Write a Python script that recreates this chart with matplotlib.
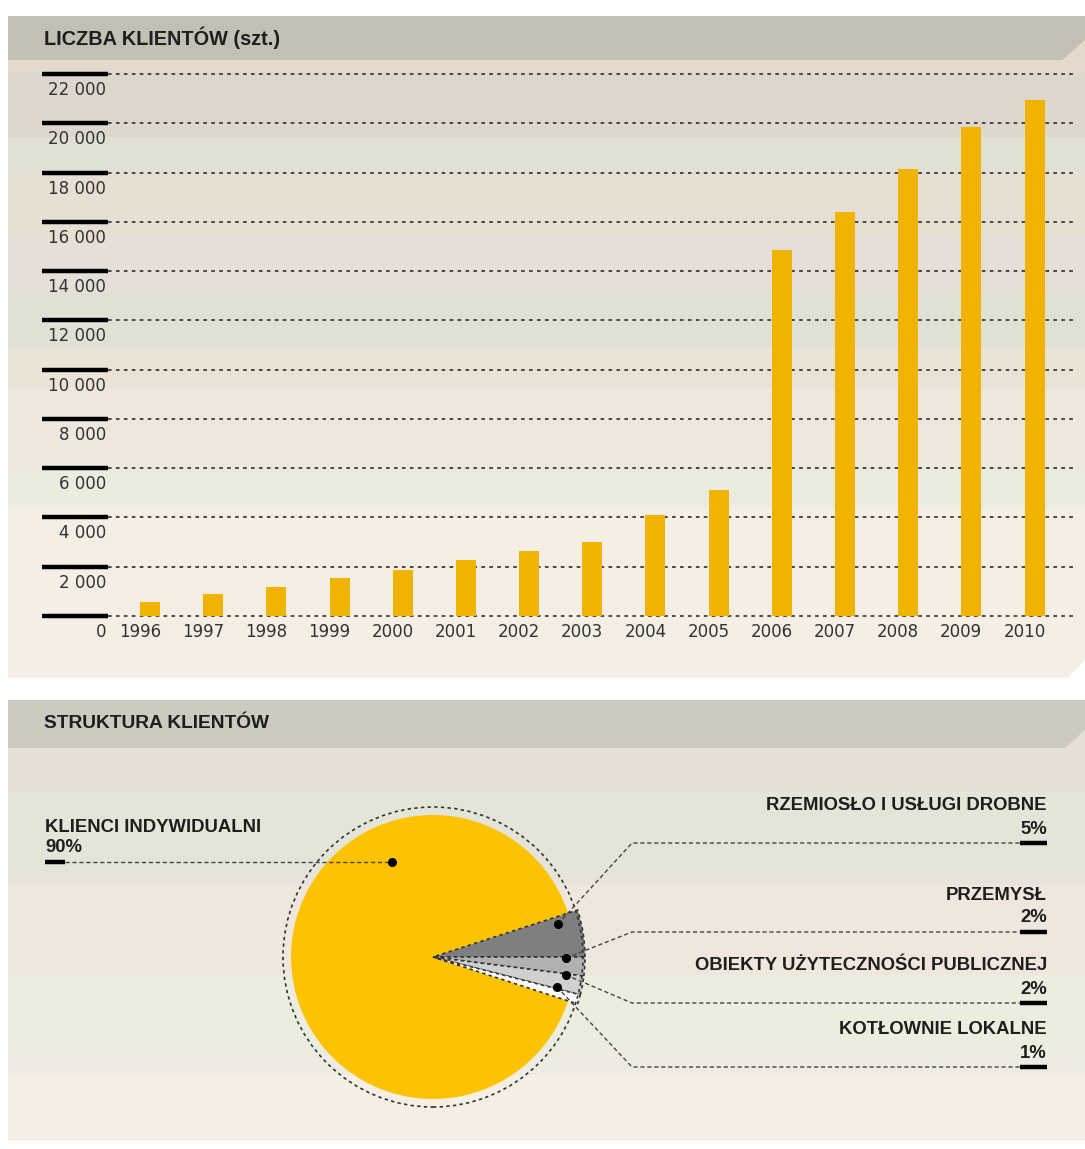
import numpy as np
import matplotlib
matplotlib.use("Agg")
import matplotlib.pyplot as plt
from matplotlib.patches import Polygon, Rectangle, Circle

# ---- data ----
years = [1996, 1997, 1998, 1999, 2000, 2001, 2002, 2003, 2004, 2005, 2006, 2007, 2008, 2009, 2010]
clients = [550, 880, 1170, 1530, 1870, 2280, 2640, 3000, 4100, 5120, 14850, 16400, 18130, 19840, 20930]
y_ticks = [0, 2000, 4000, 6000, 8000, 10000, 12000, 14000, 16000, 18000, 20000, 22000]

segments = ["KLIENCI INDYWIDUALNI", "RZEMIOSŁO I USŁUGI DROBNE", "PRZEMYSŁ",
            "OBIEKTY UŻYTECZNOŚCI PUBLICZNEJ", "KOTŁOWNIE LOKALNE"]
shares = [90, 5, 2, 2, 1]

title_top = "LICZBA KLIENTÓW (szt.)"
title_bottom = "STRUKTURA KLIENTÓW"

# ---- styles ----
W, H = 1085, 1149
BAR = "#efb300"
PIE_COLORS = ["#fdc300", "#7f7f7f", "#b1b1b1", "#d0d0d0", "#fbfbfb"]
LBL_FONT = "Liberation Sans"

top_bands = [(40, 73, "#e3dacb"), (73, 137, "#ddd7cd"), (137, 172, "#e0e0d4"),
             (172, 237, "#e6dfd2"), (237, 293, "#e5dfd8"), (293, 347, "#e0e1d5"),
             (347, 388, "#ebe3d5"), (388, 470, "#eee7dd"), (470, 507, "#ebecdf"),
             (507, 678, "#f4eee4")]
bot_bands = [(728, 792, "#e5dfd5"), (792, 875, "#e4e4d8"), (875, 885, "#e8e4dc"),
             (885, 975, "#efe7dd"), (975, 1055, "#ededdf"), (1055, 1075, "#eeece2"),
             (1075, 1141, "#f5efe4")]

fig = plt.figure(figsize=(W / 100, H / 100), dpi=100, facecolor="white")

# background in pixel coords
bg = fig.add_axes([0, 0, 1, 1])
bg.set_xlim(0, W)
bg.set_ylim(H, 0)
bg.axis("off")
for y0, y1, c in top_bands + bot_bands:
    bg.add_patch(Rectangle((8, y0), W - 8, y1 - y0, color=c, lw=0))
bg.add_patch(Polygon([(8, 16), (W, 16), (W, 40), (1062, 60), (8, 60)], closed=True, color="#c4bfb4", lw=0))
bg.add_patch(Polygon([(8, 700), (W, 700), (W, 730), (1065, 748), (8, 748)], closed=True, color="#cdcbbf", lw=0))
bg.add_patch(Polygon([(1067, 679), (W, 660), (W, 679)], closed=True, color="white", lw=0))
bg.text(44, 38, title_top, fontsize=14.3, fontweight="bold", family=LBL_FONT, color="#1e1e1e", va="center")
bg.text(44, 724, title_bottom, fontsize=13.8, fontweight="bold", family=LBL_FONT, color="#1e1e1e", va="center")

# ---- bar chart ----
x0, x1, y0p, y1p = 108, 1075, 74, 616
ax = fig.add_axes([x0 / W, 1 - y1p / H, (x1 - x0) / W, (y1p - y0p) / H])
ax.patch.set_alpha(0)
ax.axis("off")
ax.set_xlim(-0.665, 14.64)
ax.set_ylim(0, 22000)
xs = np.arange(len(years))
bw = 0.316
for v in y_ticks:
    ax.axhline(v, color="#3c3c3c", lw=1.3, ls=(0, (2, 2.4)), zorder=1, clip_on=False)
    ax.plot([-66 / (x1 - x0), 0], [v, v], transform=ax.get_yaxis_transform(),
            color="black", lw=3.2, solid_capstyle="butt", clip_on=False, zorder=3)
    ax.annotate(f"{v:,}".replace(",", " "), xy=(0, v), xycoords=ax.get_yaxis_transform(),
                xytext=(-2, -16), textcoords="offset pixels", ha="right", va="center",
                fontsize=12, color="#333", annotation_clip=False)
ax.bar(xs, clients, width=bw, color=BAR, zorder=2)
for i, yr in enumerate(years):
    ax.annotate(str(yr), xy=(i + bw / 2, 0), xytext=(1, -16), textcoords="offset pixels",
                ha="right", va="center", fontsize=12, color="#333", annotation_clip=False)

# ---- pie ----
cx, cy, S = 433, 957, 180
pa = fig.add_axes([(cx - S) / W, 1 - (cy + S) / H, 2 * S / W, 2 * S / H])
wedges, _ = pa.pie(shares, colors=PIE_COLORS, startangle=342, counterclock=False, radius=152,
                   wedgeprops=dict(lw=1.2, edgecolor="#333", linestyle=(0, (2, 2))))
wedges[0].set_radius(142)
wedges[0].set_edgecolor("none")
pa.add_patch(Circle((0, 0), 150, fill=False, lw=1.2, edgecolor="#333", linestyle=(0, (2, 2)), zorder=5))
pa.set_xlim(-S, S)
pa.set_ylim(-S, S)
pa.axis("off")

# ---- annotations (pixel coords) ----
ov = fig.add_axes([0, 0, 1, 1], zorder=10)
ov.patch.set_alpha(0)
ov.set_xlim(0, W)
ov.set_ylim(H, 0)
ov.axis("off")

dots = [(392, 862), (558, 924), (566, 958), (566, 975), (557, 987)]
line_y = [862, 843, 932, 1003, 1067]
lead = dict(color="#444", lw=1.0, ls=(0, (3, 2)))

# left label
ov.plot([65, dots[0][0]], [line_y[0], line_y[0]], **lead)
ov.plot([45, 65], [line_y[0], line_y[0]], color="black", lw=3.2, solid_capstyle="butt")
ov.text(45, 828, segments[0], fontsize=13.3, fontweight="bold", family=LBL_FONT, color="#1e1e1e", va="center")
ov.text(45, 847, f"{shares[0]}%", fontsize=13.3, fontweight="bold", family=LBL_FONT, color="#1e1e1e", va="center")

for k in range(1, 5):
    dx, dy = dots[k]
    ly = line_y[k]
    ov.plot([dx, 632, 1020], [dy, ly, ly], **lead)
    ov.plot([1020, 1047], [ly, ly], color="black", lw=3.2, solid_capstyle="butt")
    ov.text(1047, ly - 37, segments[k], fontsize=13.3, fontweight="bold", family=LBL_FONT,
            color="#1e1e1e", va="center", ha="right")
    ov.text(1047, ly - 14, f"{shares[k]}%", fontsize=13.3, fontweight="bold", family=LBL_FONT,
            color="#1e1e1e", va="center", ha="right")

for dx, dy in dots:
    ov.plot(dx, dy, "o", color="black", ms=5.5)

fig.savefig("out.png", dpi=100, facecolor="white")
